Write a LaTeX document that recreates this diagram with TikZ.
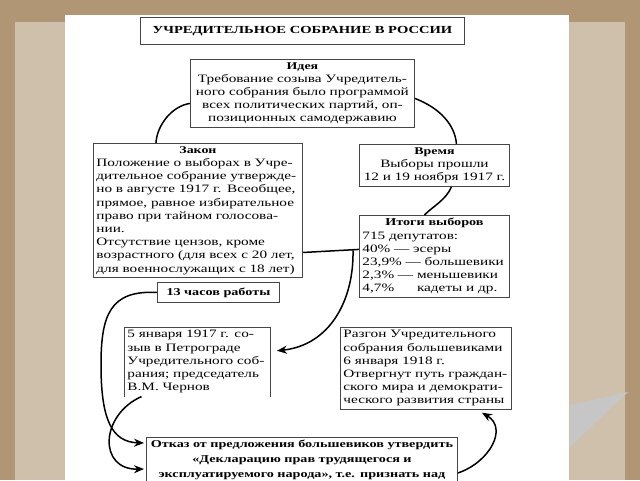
\documentclass[tikz,border=0pt]{standalone}
\usepackage{fontspec}
\setmainfont{Liberation Serif}[FakeStretch=1.35]
\usetikzlibrary{arrows.meta}

\definecolor{mapbrown}{RGB}{176,150,116}
\definecolor{boxline}{RGB}{70,70,70}

\tikzset{
	box/.style={draw=boxline, line width=0.9pt, fill=white, inner sep=3pt, anchor=north west,
		font=\fontsize{11.3}{13.2}\selectfont},
	plainbox/.style={box, draw=none},
	link/.style={line width=1.5pt, black},
	arrowlink/.style={link, -{Stealth[length=10pt,width=8pt]}}
}

\begin{document}
\begin{tikzpicture}[x=1pt, y=-1pt]
	% background
	\useasboundingbox (0,0) rectangle (640,480);
	\fill[mapbrown] (0,0) rectangle (640,480);
	\fill[white, opacity=0.4] (15,22) rectangle (625,480);
	\fill[white] (65,15) rectangle (569,480);

	% page curl
	\fill[gray!45] (570,405) -- (628,392) -- (570,447) -- cycle;

	% title
	\node[box, text width=318pt, minimum height=27pt, align=center,
		font=\fontsize{10.8}{12}\selectfont\bfseries] (title) at (140,17)
		{УЧРЕДИТЕЛЬНОЕ СОБРАНИЕ В РОССИИ};

	% idea
	\node[box, text width=218pt, minimum height=65pt, align=center] (idea) at (190,59)
		{{\fontsize{10.3}{11}\selectfont\bfseries Идея}\\
		Требование созыва Учредитель-\\
		ного собрания было программой\\
		всех политических партий, оп-\\
		позиционных самодержавию};

	% law
	\node[box, text width=203pt, minimum height=124pt, align=left] (zakon) at (93,143)
		{\centerline{\fontsize{10.3}{11}\selectfont\bfseries Закон}
		Положение о выборах в Учре-\\
		дительное собрание утвержде-\\
		но в августе 1917 г. Всеобщее,\\
		прямое, равное избирательное\\
		право при тайном голосова-\\
		нии.\\
		Отсутствие цензов, кроме\\
		возрастного (для всех с 20 лет,\\
		для военнослужащих с 18 лет)};

	% time
	\node[box, text width=144pt, minimum height=42pt, align=center] (vremya) at (359,144)
		{{\fontsize{10.3}{11}\selectfont\bfseries Время}\\
		Выборы прошли\\
		12 и 19 ноября 1917 г.};

	% results
	\node[box, text width=144pt, minimum height=74pt, align=left] (itogi) at (359,215)
		{\centerline{\fontsize{10.5}{11}\selectfont\bfseries Итоги выборов}
		715 депутатов:\\
		40\% — эсеры\\
		23,9\% — большевики\\
		2,3\% — меньшевики\\
		4,7\% \phantom{—} кадеты и др.};

	% 13 hours
	\node[box, text width=116pt, minimum height=20pt, align=center,
		font=\fontsize{10.5}{12}\selectfont\bfseries] (hours) at (157,282)
		{13 часов работы};

	% 5 january (box open at the bottom)
	\node[plainbox, text width=140pt, minimum height=68pt, align=left] (jan5) at (124,327)
		{5 января 1917 г. со-\\
		зыв в Петрограде\\
		Учредительного соб-\\
		рания; председатель\\
		В.М. Чернов};
	\draw[boxline, line width=0.9pt] (jan5.south west) -- (jan5.north west)
		-- (jan5.north east) -- (jan5.south east);

	% dispersal
	\node[box, text width=165pt, minimum height=78pt, align=left] (razgon) at (340,327)
		{Разгон Учредительного\\
		собрания большевиками\\
		6 января 1918 г.\\
		Отвергнут путь граждан-\\
		ского мира и демократи-\\
		ческого развития страны};

	% refusal
	\node[box, text width=305pt, minimum height=62pt, align=center,
		font=\fontsize{10.5}{15}\selectfont\bfseries] (otkaz) at (146,437)
		{Отказ от предложения большевиков утвердить\\
		«Декларацию прав трудящегося и\\
		эксплуатируемого народа», т.е. признать над\\
		\strut};

	% cycle round the idea
	\draw[link] ([yshift=-10pt]idea.west) .. controls (172,106) and (157,125) .. ([xshift=-42pt]zakon.north);
	\draw[link] ([yshift=-5pt]idea.east) .. controls (440,108) and (455,125) .. ([xshift=22pt]vremya.north);
	\draw[link] ([xshift=17pt]vremya.south) .. controls (446,200) and (432,207) .. ([xshift=-10pt]itogi.north);
	\draw[link] ([yshift=-42pt]zakon.east) -- ([yshift=7pt]itogi.west);

	% down to the sessions
	\draw[arrowlink] ([xshift=-6pt,yshift=6pt]itogi.west) .. controls (354,300) and (330,345) .. ([xshift=6pt,yshift=11pt]jan5.east);
	\draw[arrowlink] (hours.west) .. controls (110,290) and (101,315) .. (101,365)
		.. controls (101,420) and (112,442) .. ([xshift=-2pt,yshift=-6pt]otkaz.north west);
	\draw[arrowlink] ([xshift=-56pt]jan5.south) .. controls (100,415) and (98,470) .. ([xshift=-2pt,yshift=-32pt]otkaz.north west);
	\draw[arrowlink] ([yshift=-36pt]otkaz.north east) .. controls (490,462) and (508,428) .. ([xshift=56pt,yshift=-3pt]razgon.south);
\end{tikzpicture}
\end{document}
